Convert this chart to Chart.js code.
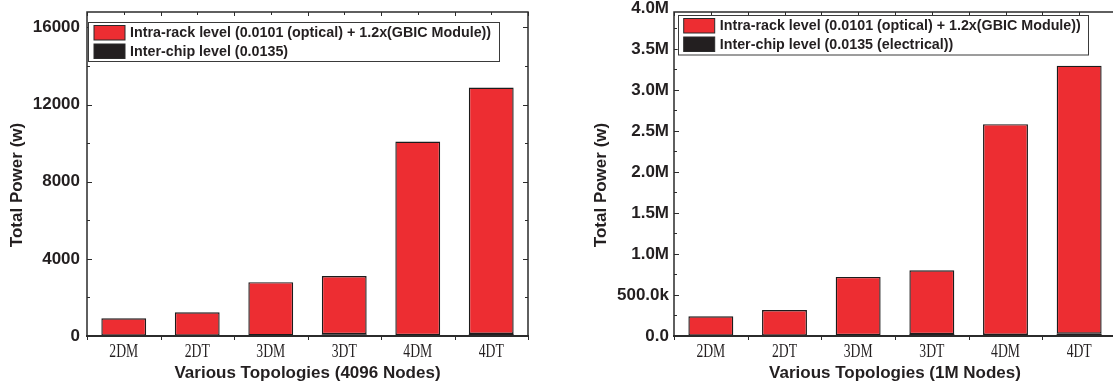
<!DOCTYPE html>
<html>
<head>
<meta charset="utf-8">
<script src="https://cdn.jsdelivr.net/npm/chart.js@4.4.1/dist/chart.umd.min.js"></script>
<style>
  html, body { margin: 0; padding: 0; background: #fff; overflow: hidden; width: 1113px; height: 385px; }
  .panel { position: absolute; top: 0; height: 385px; }
  #p1 { left: 0; width: 560px; }
  #p2 { left: 560px; width: 580px; }
</style>
</head>
<body>
<div class="panel" id="p1"><canvas id="c1"></canvas></div>
<div class="panel" id="p2"><canvas id="c2"></canvas></div>
<script>
// Topologies on the x axis (shared by both panels)
const topologies = ['2DM', '2DT', '3DM', '3DT', '4DM', '4DT'];

// 4096-node network: power (W) per level
const intraRack4096 = [905, 1210, 2755, 3020, 10035, 12770];
const interChip4096 = [15, 20, 35, 90, 45, 110];
const yTicks4096 = [0, 4000, 8000, 12000, 16000];
const yTickLabels4096 = ['0', '4000', '8000', '12000', '16000'];

// 1M-node network: power (W) per level
const intraRack1M = [236000, 312000, 711000, 778000, 2571000, 3268000];
const interChip1M = [4000, 5000, 9000, 23000, 12000, 28000];
const yTicks1M = [0, 500000, 1000000, 1500000, 2000000, 2500000, 3000000, 3500000, 4000000];
const yTickLabels1M = ['0.0', '500.0k', '1.0M', '1.5M', '2.0M', '2.5M', '3.0M', '3.5M', '4.0M'];

const legendRed4096 = 'Intra-rack level (0.0101 (optical) + 1.2x(GBIC Module))';
const legendBlack4096 = 'Inter-chip level (0.0135)';
const legendRed1M = 'Intra-rack level (0.0101 (optical) + 1.2x(GBIC Module))';
const legendBlack1M = 'Inter-chip level (0.0135 (electrical))';
const yTitle = 'Total Power (w)';

const RED = '#ED2D32';
const BLACK = '#231F20';
const INK = '#231F20';
const SANS = "'Liberation Sans', Arial, sans-serif";
const SERIF = "'Liberation Serif', 'Times New Roman', serif";

// Box frame, inward tick marks, condensed category labels, y title and the boxed legend
const framePlugin = {
  id: 'frame',
  afterDatasetsDraw(chart, args, opts) {
    const ctx = chart.ctx;
    const { left, right, top, bottom } = chart.chartArea;
    const xs = chart.scales.x, ys = chart.scales.y;
    ctx.save();
    ctx.strokeStyle = '#2b2b2b';
    ctx.lineCap = 'butt';

    // frame
    ctx.lineWidth = 1.5;
    ctx.beginPath();
    ctx.moveTo(left, bottom); ctx.lineTo(left, top); ctx.lineTo(right, top); ctx.lineTo(right, bottom);
    ctx.stroke();
    ctx.lineWidth = 2;
    ctx.beginPath();
    ctx.moveTo(left - 1, bottom); ctx.lineTo(right + 1, bottom);
    ctx.stroke();

    // y tick marks, major and minor, on left axis and right border
    ctx.lineWidth = 1;
    const step = opts.minorStep;
    for (let v = 0; v <= ys.max + 1e-6; v += step) {
      const y = Math.round(ys.getPixelForValue(v)) + 0.5;
      const major = Math.abs((v / (step * 2)) - Math.round(v / (step * 2))) < 1e-6;
      const len = major ? 5 : 3;
      ctx.beginPath();
      ctx.moveTo(left, y); ctx.lineTo(left + len, y);
      if (opts.rightTicks) { ctx.moveTo(right, y); ctx.lineTo(right - len, y); }
      ctx.stroke();
    }
    // x tick marks: category centres and boundaries on top border, boundaries below axis
    const n = xs.ticks.length;
    const cw = (right - left) / n;
    for (let i = 0; i <= n; i++) {
      const xb = Math.round(left + i * cw) + 0.5;
      ctx.beginPath();
      ctx.moveTo(xb, top); ctx.lineTo(xb, top + 4);
      ctx.moveTo(xb, bottom); ctx.lineTo(xb, bottom + 4);
      ctx.stroke();
    }
    for (let i = 0; i < n; i++) {
      const xc = Math.round(xs.getPixelForTick(i)) + 0.5;
      ctx.beginPath();
      ctx.moveTo(xc, top); ctx.lineTo(xc, top + 3);
      ctx.stroke();
    }

    // category labels in a narrow serif face
    ctx.fillStyle = INK;
    ctx.font = '19px ' + SERIF;
    ctx.textAlign = 'center';
    ctx.textBaseline = 'alphabetic';
    for (let i = 0; i < n; i++) {
      ctx.save();
      ctx.translate(xs.getPixelForTick(i), bottom + 21);
      ctx.scale(0.72, 1);
      ctx.fillText(xs.getLabelForValue(i), 0, 0);
      ctx.restore();
    }

    // rotated y-axis title
    ctx.save();
    ctx.font = 'bold 17px ' + SANS;
    ctx.textBaseline = 'middle';
    ctx.translate(opts.titleX, opts.titleY);
    ctx.rotate(-Math.PI / 2);
    ctx.fillText(yTitle, 0, 0);
    ctx.restore();

    // legend box
    const lg = opts.legend;
    const bx = left + lg.dx, by = top + lg.dy;
    ctx.fillStyle = '#fff';
    ctx.fillRect(bx, by, lg.w, lg.h);
    ctx.lineWidth = 1;
    ctx.strokeStyle = '#3a3a3a';
    ctx.strokeRect(Math.round(bx) + 0.5, Math.round(by) + 0.5, lg.w, lg.h);
    const rows = [
      { color: RED, text: lg.red },
      { color: BLACK, text: lg.black }
    ];
    ctx.font = 'bold 14.3px ' + SANS;
    ctx.textAlign = 'left';
    ctx.textBaseline = 'middle';
    rows.forEach((r, k) => {
      const sy = by + 3.5 + k * 18.5;
      ctx.fillStyle = r.color;
      ctx.fillRect(bx + 6, sy, 31, 14.5);
      ctx.strokeStyle = '#2b2b2b';
      ctx.strokeRect(bx + 6, sy, 31, 14.5);
      ctx.fillStyle = INK;
      ctx.fillText(r.text, bx + 42, sy + 7.8);
    });
    ctx.restore();
  }
};

function makeChart(id, cfg) {
  return new Chart(document.getElementById(id), {
    type: 'bar',
    data: {
      labels: topologies,
      datasets: [
        {
          label: cfg.legend.black,
          data: cfg.black,
          backgroundColor: BLACK,
          borderColor: BLACK,
          borderWidth: 0,
          barPercentage: 0.61,
          categoryPercentage: 1.0
        },
        {
          label: cfg.legend.red,
          data: cfg.red,
          backgroundColor: RED,
          borderColor: '#1c1c1c',
          borderWidth: 1.4,
          borderSkipped: false,
          barPercentage: 0.61,
          categoryPercentage: 1.0
        }
      ]
    },
    options: {
      responsive: true,
      maintainAspectRatio: false,
      animation: false,
      layout: { padding: { left: 0, top: 12, right: cfg.padRight, bottom: 0 } },
      plugins: {
        legend: { display: false },
        tooltip: { enabled: false },
        frame: {
          minorStep: cfg.minorStep, legend: cfg.legend, rightTicks: cfg.rightTicks,
          titleX: cfg.titleX, titleY: 185
        }
      },
      scales: {
        x: {
          stacked: true,
          grid: { display: false, drawTicks: false },
          border: { display: false },
          ticks: { display: false },
          title: {
            display: true,
            text: cfg.xTitle,
            color: INK,
            font: { family: SANS, size: 17, weight: 'bold' },
            padding: { top: 0, bottom: 1.8 }
          },
          afterFit: (s) => { s.height = 49; }
        },
        y: {
          stacked: true,
          min: 0,
          max: cfg.max,
          grid: { display: false, drawTicks: false, tickLength: 0 },
          border: { display: false },
          afterBuildTicks: (s) => { s.ticks = cfg.ticks.map(v => ({ value: v })); },
          ticks: {
            autoSkip: false,
            padding: cfg.tickPad,
            color: INK,
            font: { family: SANS, size: 17, weight: 'bold' },
            callback: (v) => cfg.tickLabels[cfg.ticks.indexOf(v)]
          },
          afterFit: (s) => {
            s.width = cfg.axisWidth;
            s.paddingTop = 0;
            s.paddingBottom = 0;
          }
        }
      }
    },
    plugins: [framePlugin]
  });
}

makeChart('c1', {
  red: intraRack4096, black: interChip4096,
  ticks: yTicks4096, tickLabels: yTickLabels4096,
  max: 16800, minorStep: 2000,
  axisWidth: 87, padRight: 32, tickPad: 7, titleX: 17, rightTicks: true,
  xTitle: 'Various Topologies (4096 Nodes)',
  legend: { dx: 1, dy: 10, w: 411, h: 39, red: legendRed4096, black: legendBlack4096 }
});

makeChart('c2', {
  red: intraRack1M, black: interChip1M,
  ticks: yTicks1M, tickLabels: yTickLabels1M,
  max: 3950000, minorStep: 250000,
  axisWidth: 114, padRight: 24, tickPad: 5, titleX: 41, rightTicks: false,
  xTitle: 'Various Topologies (1M Nodes)',
  legend: { dx: 3.7, dy: 3, w: 410, h: 39.5, red: legendRed1M, black: legendBlack1M }
});
</script>
</body>
</html>
